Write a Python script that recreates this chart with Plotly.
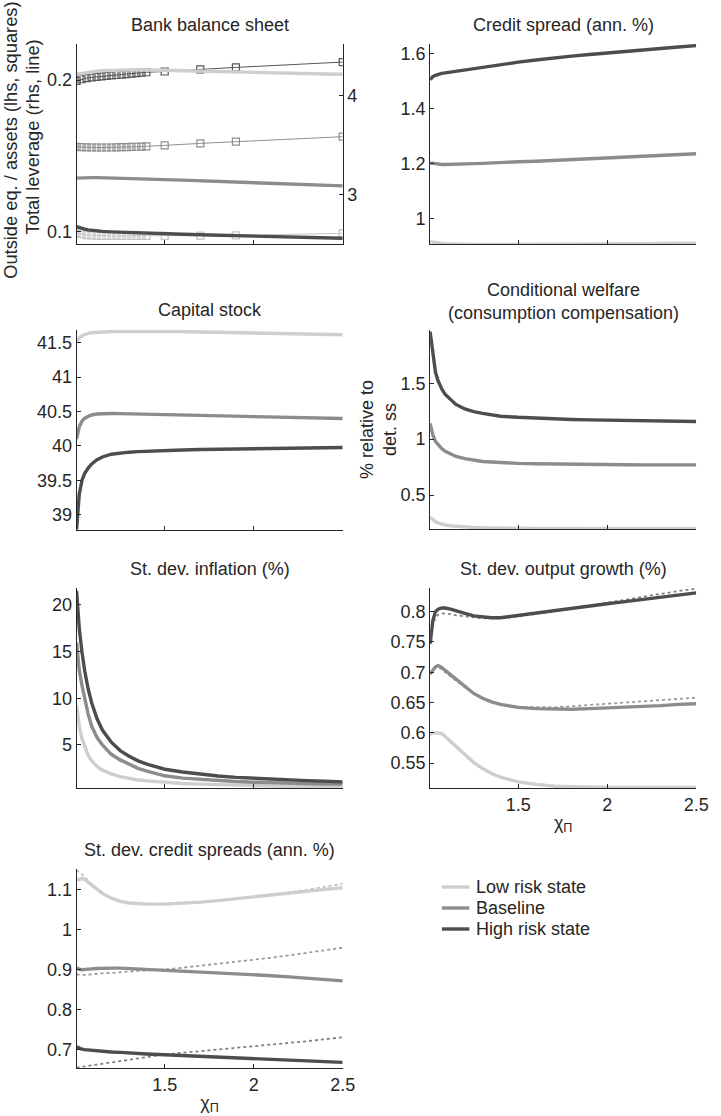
import plotly.graph_objects as go

# ---------------- data ----------------
chi = [1.005, 1.02, 1.035, 1.05, 1.07, 1.09, 1.12, 1.15, 1.2, 1.25, 1.3, 1.35, 1.4,
       1.5, 1.6, 1.7, 1.8, 1.9, 2.0, 2.1, 2.2, 2.3, 2.4, 2.5]
series_names = ["Low risk state", "Baseline", "High risk state"]

# Bank balance sheet: leverage (rhs, lines)
lev_low = [4.22, 4.225, 4.23, 4.235, 4.24, 4.245, 4.25, 4.255, 4.26, 4.262, 4.264, 4.265, 4.265,
           4.26, 4.255, 4.25, 4.245, 4.24, 4.235, 4.23, 4.228, 4.225, 4.222, 4.22]
lev_base = [3.17, 3.172, 3.173, 3.174, 3.175, 3.175, 3.175, 3.174, 3.172, 3.17, 3.167, 3.164, 3.16,
            3.155, 3.15, 3.144, 3.138, 3.132, 3.126, 3.12, 3.113, 3.106, 3.099, 3.092]
lev_high = [2.68, 2.67, 2.662, 2.655, 2.648, 2.642, 2.636, 2.632, 2.627, 2.623, 2.62, 2.617, 2.614,
            2.608, 2.603, 2.598, 2.594, 2.59, 2.586, 2.582, 2.577, 2.572, 2.566, 2.563]
# Outside equity / assets (lhs, squares)
sq_chi = [1.005, 1.033, 1.061, 1.089, 1.117, 1.145, 1.173, 1.201, 1.229, 1.257, 1.285, 1.313,
          1.341, 1.369, 1.397, 1.5, 1.7, 1.9, 2.5]
oe_low = [0.0993, 0.0985, 0.098, 0.0978, 0.0976, 0.0975, 0.0975, 0.0974, 0.0974, 0.0974, 0.0974,
          0.0974, 0.0974, 0.0974, 0.0974, 0.0974, 0.0976, 0.0978, 0.0991]
oe_base = [0.156, 0.1558, 0.1557, 0.1556, 0.1556, 0.1556, 0.1556, 0.1556, 0.1557, 0.1558, 0.1559,
           0.156, 0.1561, 0.1562, 0.1563, 0.157, 0.1583, 0.1594, 0.1627]
oe_high = [0.1995, 0.2005, 0.2012, 0.2017, 0.2021, 0.2024, 0.2027, 0.203, 0.2033, 0.2036, 0.2039,
           0.2042, 0.2045, 0.2048, 0.2051, 0.2056, 0.207, 0.2083, 0.2118]

# Credit spread (ann. %)
cs_low = [0.915, 0.913, 0.911, 0.91, 0.909, 0.908, 0.907, 0.906, 0.905, 0.905, 0.905, 0.905, 0.905,
          0.905, 0.905, 0.905, 0.906, 0.906, 0.907, 0.907, 0.908, 0.909, 0.909, 0.91]
cs_base = [1.202, 1.2, 1.198, 1.197, 1.196, 1.196, 1.196, 1.197, 1.198, 1.199, 1.2, 1.202, 1.203,
           1.206, 1.208, 1.211, 1.214, 1.217, 1.22, 1.223, 1.226, 1.229, 1.232, 1.235]
cs_high = [1.505, 1.515, 1.52, 1.524, 1.527, 1.529, 1.532, 1.535, 1.54, 1.545, 1.55, 1.555, 1.56,
           1.568, 1.576, 1.584, 1.59, 1.596, 1.602, 1.608, 1.613, 1.618, 1.623, 1.628]

# Capital stock
k_low = [41.51, 41.57, 41.6, 41.62, 41.635, 41.645, 41.652, 41.657, 41.66, 41.662, 41.663, 41.663,
         41.663, 41.662, 41.66, 41.656, 41.652, 41.648, 41.643, 41.638, 41.632, 41.626, 41.62, 41.614]
k_base = [40.1, 40.28, 40.36, 40.4, 40.43, 40.45, 40.465, 40.47, 40.472, 40.47, 40.467, 40.463,
          40.46, 40.453, 40.446, 40.44, 40.434, 40.428, 40.422, 40.417, 40.412, 40.407, 40.402, 40.398]
k_high = [38.79, 39.3, 39.5, 39.6, 39.68, 39.74, 39.8, 39.84, 39.88, 39.9, 39.91, 39.918, 39.925,
          39.935, 39.942, 39.948, 39.953, 39.957, 39.961, 39.965, 39.969, 39.972, 39.975, 39.978]

# Conditional welfare
w_low = [0.30, 0.275, 0.26, 0.25, 0.24, 0.232, 0.225, 0.22, 0.214, 0.21, 0.207, 0.205, 0.204,
         0.202, 0.201, 0.2, 0.2, 0.199, 0.199, 0.199, 0.199, 0.199, 0.199, 0.199]
w_base = [1.14, 1.04, 0.98, 0.95, 0.915, 0.89, 0.865, 0.845, 0.825, 0.81, 0.8, 0.795, 0.79,
          0.783, 0.779, 0.776, 0.774, 0.773, 0.772, 0.771, 0.77, 0.77, 0.77, 0.77]
w_high = [1.96, 1.75, 1.6, 1.52, 1.45, 1.40, 1.35, 1.31, 1.27, 1.245, 1.23, 1.215, 1.205,
          1.195, 1.187, 1.18, 1.176, 1.172, 1.169, 1.166, 1.164, 1.162, 1.16, 1.158]

# St. dev. inflation (%)
pi_low = [9.3, 7.0, 5.7, 4.8, 3.9, 3.3, 2.7, 2.3, 1.9, 1.6, 1.4, 1.25, 1.15,
          1.0, 0.88, 0.8, 0.73, 0.68, 0.64, 0.6, 0.57, 0.54, 0.52, 0.5]
pi_base = [16.0, 13.0, 11.4, 10.0, 8.3, 7.0, 5.8, 5.0, 4.0, 3.4, 2.9, 2.5, 2.2,
           1.7, 1.45, 1.3, 1.18, 1.08, 1.0, 0.94, 0.89, 0.85, 0.82, 0.8]
pi_high = [21.5, 17.5, 15.0, 13.0, 11.0, 9.5, 7.8, 6.6, 5.3, 4.4, 3.8, 3.3, 2.95,
           2.4, 2.1, 1.85, 1.68, 1.53, 1.42, 1.33, 1.25, 1.18, 1.11, 1.05]

# St. dev. output growth (%)
y_low = [0.598, 0.6, 0.6, 0.6, 0.599, 0.594, 0.586, 0.577, 0.563, 0.551, 0.541, 0.533, 0.527,
         0.519, 0.515, 0.512, 0.511, 0.51, 0.51, 0.51, 0.51, 0.51, 0.51, 0.51]
y_low_dot = [0.597, 0.599, 0.6, 0.6, 0.598, 0.593, 0.585, 0.576, 0.562, 0.55, 0.541, 0.533, 0.527,
             0.52, 0.516, 0.513, 0.512, 0.511, 0.511, 0.511, 0.511, 0.511, 0.511, 0.511]
y_base = [0.697, 0.703, 0.709, 0.711, 0.708, 0.703, 0.696, 0.688, 0.676, 0.665, 0.657, 0.651, 0.647,
          0.642, 0.64, 0.639, 0.639, 0.64, 0.641, 0.642, 0.644, 0.645, 0.647, 0.648]
y_base_dot = [0.697, 0.703, 0.707, 0.708, 0.705, 0.7, 0.693, 0.686, 0.675, 0.665, 0.657, 0.651, 0.647,
              0.643, 0.642, 0.642, 0.644, 0.646, 0.648, 0.65, 0.652, 0.654, 0.656, 0.658]
y_high = [0.747, 0.785, 0.8, 0.804, 0.806, 0.806, 0.804, 0.801, 0.797, 0.793, 0.791, 0.79, 0.79,
          0.794, 0.798, 0.802, 0.806, 0.8095, 0.813, 0.8166, 0.82, 0.824, 0.8275, 0.831]
y_high_dot = [0.755, 0.778, 0.79, 0.795, 0.797, 0.797, 0.796, 0.794, 0.792, 0.79, 0.789, 0.789, 0.789,
              0.792, 0.796, 0.8, 0.805, 0.81, 0.815, 0.82, 0.824, 0.829, 0.834, 0.838]

# St. dev. credit spreads (ann. %)
sd_low = [1.123, 1.126, 1.127, 1.125, 1.118, 1.11, 1.099, 1.09, 1.078, 1.07, 1.066, 1.064, 1.063,
          1.063, 1.065, 1.068, 1.072, 1.077, 1.081, 1.085, 1.09, 1.095, 1.1, 1.104]
sd_low_dot = [1.148, 1.143, 1.138, 1.132, 1.122, 1.112, 1.1, 1.09, 1.078, 1.07, 1.066, 1.064, 1.063,
              1.063, 1.065, 1.068, 1.072, 1.077, 1.082, 1.087, 1.093, 1.099, 1.106, 1.114]
sd_base = [0.904, 0.9, 0.899, 0.899, 0.9, 0.901, 0.902, 0.903, 0.903, 0.903, 0.902, 0.901, 0.9,
           0.898, 0.896, 0.894, 0.892, 0.89, 0.887, 0.884, 0.881, 0.878, 0.875, 0.871]
sd_base_dot = [0.887, 0.886, 0.886, 0.886, 0.887, 0.888, 0.889, 0.89, 0.891, 0.893, 0.895, 0.896, 0.897,
               0.899, 0.904, 0.909, 0.914, 0.918, 0.923, 0.929, 0.935, 0.941, 0.948, 0.954]
sd_high = [0.706, 0.702, 0.7, 0.699, 0.698, 0.697, 0.696, 0.695, 0.693, 0.692, 0.69, 0.689, 0.688,
           0.686, 0.684, 0.682, 0.68, 0.679, 0.677, 0.675, 0.673, 0.671, 0.669, 0.667]
sd_high_dot = [0.654, 0.655, 0.656, 0.657, 0.659, 0.66, 0.662, 0.664, 0.667, 0.671, 0.674, 0.677, 0.681,
               0.687, 0.691, 0.695, 0.699, 0.703, 0.707, 0.711, 0.716, 0.72, 0.725, 0.73]

x_ticks = [1.5, 2, 2.5]
x_tick_labels = ["1.5", "2", "2.5"]

# ---------------- styling ----------------
FONT = "Liberation Sans, Arial, Helvetica, sans-serif"
TXT = "#262626"
COLORS = ["#cecece", "#8c8c8c", "#4d4d4d"]
DOT_COLORS = ["#c0c0c0", "#999999", "#808080"]
SQ_COLORS = ["#c4c4c4", "#8e8e8e", "#555555"]
LW = 3.4
FS = 18

fig = go.Figure()


def add_set(xa, ya, ys):
    for i, y in enumerate(ys):
        fig.add_trace(go.Scatter(x=chi, y=y, xaxis=xa, yaxis=ya, mode="lines",
                                 line=dict(color=COLORS[i], width=LW),
                                 name=series_names[i], showlegend=False,
                                 hoverinfo="skip"))


def add_dots(xa, ya, ys):
    for i, y in enumerate(ys):
        fig.add_trace(go.Scatter(x=chi, y=y, xaxis=xa, yaxis=ya, mode="lines",
                                 line=dict(color=DOT_COLORS[i], width=1.8, dash="dot"),
                                 showlegend=False, hoverinfo="skip"))


# panel 1: bank balance sheet
for i, y in enumerate([lev_low, lev_base, lev_high]):
    fig.add_trace(go.Scatter(x=chi, y=y, xaxis="x", yaxis="y8", mode="lines",
                             line=dict(color=COLORS[i], width=LW), showlegend=False))
for i, y in enumerate([oe_low, oe_base, oe_high]):
    fig.add_trace(go.Scatter(x=sq_chi, y=y, xaxis="x", yaxis="y", mode="lines+markers",
                             line=dict(color=SQ_COLORS[i], width=1),
                             marker=dict(symbol="square-open", size=7, color=SQ_COLORS[i],
                                         line=dict(width=1.2, color=SQ_COLORS[i])),
                             showlegend=False))

add_set("x2", "y2", [cs_low, cs_base, cs_high])
add_set("x3", "y3", [k_low, k_base, k_high])
add_set("x4", "y4", [w_low, w_base, w_high])
add_set("x5", "y5", [pi_low, pi_base, pi_high])
add_dots("x6", "y6", [y_low_dot, y_base_dot, y_high_dot])
add_set("x6", "y6", [y_low, y_base, y_high])
add_dots("x7", "y7", [sd_low_dot, sd_base_dot, sd_high_dot])
add_set("x7", "y7", [sd_low, sd_base, sd_high])

W, H = 721, 1116
LEFT = [78 / W, 349 / W]
RIGHT = [438 / W, 709 / W]


def ydom(top, bottom):
    return [1 - bottom / H, 1 - top / H]


ax_common = dict(showline=True, linecolor=TXT, linewidth=1, ticks="inside", ticklen=4,
                 tickcolor=TXT, showgrid=False, zeroline=False,
                 tickfont=dict(family=FONT, size=FS, color=TXT))


def xax(dom, anchor, labels):
    d = dict(ax_common)
    d.update(domain=dom, anchor=anchor, range=[1.005, 2.5], tickvals=x_ticks,
             ticktext=x_tick_labels, showticklabels=labels)
    if labels:
        d.update(title=dict(text="χ<sub>Π</sub>", font=dict(family=FONT, size=FS, color=TXT),
                            standoff=2))
    return d


def yax(dom, anchor, rng, tv, tt=None):
    d = dict(ax_common)
    d.update(domain=dom, anchor=anchor, range=rng, tickvals=tv,
             ticktext=tt if tt else [str(v) for v in tv])
    return d


layout = dict(
    width=W, height=H, margin=dict(l=0, r=0, t=0, b=0),
    paper_bgcolor="white", plot_bgcolor="white",
    font=dict(family=FONT, size=FS, color=TXT),
    xaxis=xax(LEFT, "y", False),
    yaxis=yax(ydom(44, 244), "x", [0.0921, 0.2237], [0.1, 0.2], ["0.1", "0.2"]),
    xaxis2=xax(RIGHT, "y2", False),
    yaxis2=yax(ydom(44, 244), "x2", [0.907, 1.634], [1, 1.2, 1.4, 1.6], ["1", "1.2", "1.4", "1.6"]),
    xaxis3=xax(LEFT, "y3", False),
    yaxis3=yax(ydom(330, 530), "x3", [38.78, 41.684], [39, 39.5, 40, 40.5, 41, 41.5],
               ["39", "39.5", "40", "40.5", "41", "41.5"]),
    xaxis4=xax(RIGHT, "y4", False),
    yaxis4=yax(ydom(330, 529), "x4", [0.196, 1.976], [0.5, 1, 1.5], ["0.5", "1", "1.5"]),
    xaxis5=xax(LEFT, "y5", False),
    yaxis5=yax(ydom(588, 788), "x5", [0.39, 21.82], [5, 10, 15, 20]),
    xaxis6=xax(RIGHT, "y6", True),
    yaxis6=yax(ydom(588, 788), "x6", [0.509, 0.839], [0.55, 0.6, 0.65, 0.7, 0.75, 0.8],
               ["0.55", "0.6", "0.65", "0.7", "0.75", "0.8"]),
    xaxis7=xax(LEFT, "y7", True),
    yaxis7=yax(ydom(869, 1068), "x7", [0.653, 1.151], [0.7, 0.8, 0.9, 1, 1.1],
               ["0.7", "0.8", "0.9", "1", "1.1"]),
    showlegend=False,
)
y8 = dict(ax_common)
y8.update(domain=ydom(44, 244), anchor="x", overlaying="y", side="right",
          range=[2.505, 4.525], tickvals=[3, 4], ticktext=["3", "4"])
layout["yaxis8"] = y8
fig.update_layout(**layout)

titles = [
    ("Bank balance sheet", (78 + 349) / 2, 25),
    ("Credit spread (ann. %)", (438 + 709) / 2, 25),
    ("Capital stock", (78 + 349) / 2, 310),
    ("Conditional welfare<br>(consumption compensation)", (438 + 709) / 2, 301),
    ("St. dev. inflation (%)", (78 + 349) / 2, 569),
    ("St. dev. output growth (%)", (438 + 709) / 2, 569),
    ("St. dev. credit spreads (ann. %)", (78 + 349) / 2, 850),
]
for t, xc, yc in titles:
    fig.add_annotation(text=t, x=xc / W, y=1 - yc / H, xref="paper", yref="paper",
                       showarrow=False, xanchor="center", yanchor="middle",
                       font=dict(family=FONT, size=FS, color=TXT))

side_labels = [
    ("Outside eq. / assets (lhs, squares)", 11, 140, 18.3),
    ("Total leverage (rhs, line)", 34, 137, 18.3),
    ("% relative to<br>det. ss", 385, 430, FS),
]
for t, xc, yc, fs in side_labels:
    fig.add_annotation(text=t, x=xc / W, y=1 - yc / H, xref="paper", yref="paper",
                       showarrow=False, xanchor="center", yanchor="middle", textangle=-90,
                       font=dict(family=FONT, size=fs, color=TXT))

# legend (drawn as keys + labels)
legend_rows = [887, 908, 929]
for i, yy in enumerate(legend_rows):
    fig.add_shape(type="line", xref="paper", yref="paper",
                  x0=450 / W, x1=478 / W, y0=1 - yy / H, y1=1 - yy / H,
                  line=dict(color=COLORS[i], width=LW))
    fig.add_annotation(text=series_names[i], x=483 / W, y=1 - yy / H, xref="paper", yref="paper",
                       showarrow=False, xanchor="left", yanchor="middle",
                       font=dict(family=FONT, size=FS, color=TXT))

fig.write_html("out.html", config={"displayModeBar": False},
               post_script="document.body.style.margin='0';")
